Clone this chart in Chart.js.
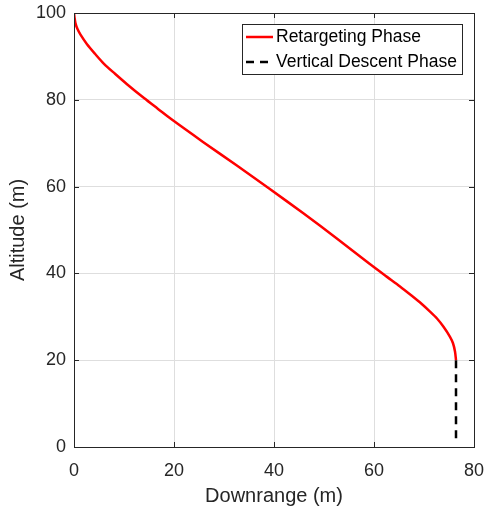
<!DOCTYPE html>
<html>
<head>
<meta charset="utf-8">
<script src="https://cdn.jsdelivr.net/npm/chart.js@4"></script>
<style>
  html, body { margin: 0; padding: 0; background: #fff; }
  #wrap { width: 487px; height: 512px; }
</style>
</head>
<body>
<div id="wrap"><canvas id="grafico" width="487" height="512"></canvas></div>
<script>
// fase de redirecionamento (curva vermelha)
const retargetX = [0, 0.1, 0.3, 0.7, 1.3, 2.6, 4.2, 6.0, 8.2, 10.6, 14.0, 16.8, 19.5, 25.8, 32.5, 39.1, 45.8, 52.5, 59.1, 62.6, 65.2, 67.5, 69.5, 71.1, 72.6, 73.9, 75.2, 75.8, 76.2, 76.4];
const retargetY = [100, 99.0, 97.6, 96.3, 95.0, 92.8, 90.6, 88.3, 86.0, 83.6, 80.4, 77.9, 75.5, 70.3, 64.9, 59.5, 53.9, 48.1, 42.2, 39.2, 37.0, 34.9, 33.0, 31.3, 29.6, 27.7, 25.4, 23.9, 22.0, 20];
// descida vertical (tracejado preto)
const descentX = [76.4, 76.4];
const descentY = [20, 2];

const xTicks = [0, 20, 40, 60, 80];
const yTicks = [0, 20, 40, 60, 80, 100];
const legendLabels = ['Retargeting Phase', 'Vertical Descent Phase'];

const fonte = '"Liberation Sans", Arial, sans-serif';
const corEixo = '#262626';

const toPoints = (xs, ys) => xs.map((x, i) => ({ x: x, y: ys[i] }));

// desenha moldura, ticks internos e a legenda no estilo MATLAB
const estiloMatlab = {
  id: 'estiloMatlab',
  afterDraw(chart) {
    const { ctx, chartArea: a, scales } = chart;
    ctx.save();
    ctx.strokeStyle = corEixo;
    ctx.lineWidth = 1;
    ctx.strokeRect(Math.round(a.left) + 0.5, Math.round(a.top) + 0.5, Math.round(a.right - a.left), Math.round(a.bottom - a.top));
    ctx.beginPath();
    xTicks.forEach(v => {
      const px = Math.round(scales.x.getPixelForValue(v)) + 0.5;
      ctx.moveTo(px, a.bottom); ctx.lineTo(px, a.bottom - 5);
      ctx.moveTo(px, a.top); ctx.lineTo(px, a.top + 5);
    });
    yTicks.forEach(v => {
      const py = Math.round(scales.y.getPixelForValue(v)) + 0.5;
      ctx.moveTo(a.left, py); ctx.lineTo(a.left + 5, py);
      ctx.moveTo(a.right, py); ctx.lineTo(a.right - 5, py);
    });
    ctx.stroke();

    // legenda
    const bx = 242, by = 24, bw = 220, bh = 50;
    ctx.fillStyle = '#fff';
    ctx.fillRect(bx, by, bw, bh);
    ctx.strokeStyle = corEixo;
    ctx.strokeRect(bx + 0.5, by + 0.5, bw, bh);
    const ds = chart.data.datasets;
    [37, 62].forEach((ly, i) => {
      ctx.beginPath();
      ctx.strokeStyle = ds[i].borderColor;
      ctx.lineWidth = 2.5;
      ctx.setLineDash(ds[i].borderDash || []);
      ctx.moveTo(246, ly); ctx.lineTo(273, ly);
      ctx.stroke();
      ctx.setLineDash([]);
      ctx.fillStyle = '#000';
      ctx.font = '17.5px ' + fonte;
      ctx.textBaseline = 'middle';
      ctx.fillText(legendLabels[i], 276, ly);
    });
    ctx.restore();
  }
};

new Chart(document.getElementById('grafico'), {
  type: 'scatter',
  data: {
    datasets: [{
      label: legendLabels[0],
      data: toPoints(retargetX, retargetY),
      showLine: true,
      borderColor: '#ff0000',
      borderWidth: 2.5,
      pointRadius: 0,
      tension: 0.3
    }, {
      label: legendLabels[1],
      data: toPoints(descentX, descentY),
      showLine: true,
      borderColor: '#000000',
      borderWidth: 2.5,
      borderDash: [8, 6],
      pointRadius: 0
    }]
  },
  options: {
    responsive: false,
    animation: false,
    layout: { padding: { top: 13, right: 13, left: 0, bottom: 0 } },
    plugins: { legend: { display: false }, tooltip: { enabled: false } },
    scales: {
      x: {
        type: 'linear', min: 0, max: 80,
        afterFit: s => { s.height = 65; s.paddingLeft = 0; s.paddingRight = 0; },
        afterBuildTicks: s => { s.ticks = xTicks.map(v => ({ value: v })); },
        grid: { color: '#dedede', drawTicks: false },
        border: { display: false },
        ticks: { color: corEixo, font: { family: fonte, size: 18 }, padding: 13 },
        title: { display: true, text: 'Downrange (m)', color: corEixo, font: { family: fonte, size: 20 }, padding: { top: 2 } }
      },
      y: {
        type: 'linear', min: 0, max: 100,
        afterFit: s => { s.width = 74; s.paddingTop = 0; s.paddingBottom = 0; },
        afterBuildTicks: s => { s.ticks = yTicks.map(v => ({ value: v })); },
        grid: { color: '#dedede', drawTicks: false },
        border: { display: false },
        ticks: { color: corEixo, font: { family: fonte, size: 18 }, padding: 8 },
        title: { display: true, text: 'Altitude (m)', color: corEixo, font: { family: fonte, size: 20 }, padding: { top: 6, bottom: 0 } }
      }
    }
  },
  plugins: [estiloMatlab]
});
</script>
</body>
</html>
